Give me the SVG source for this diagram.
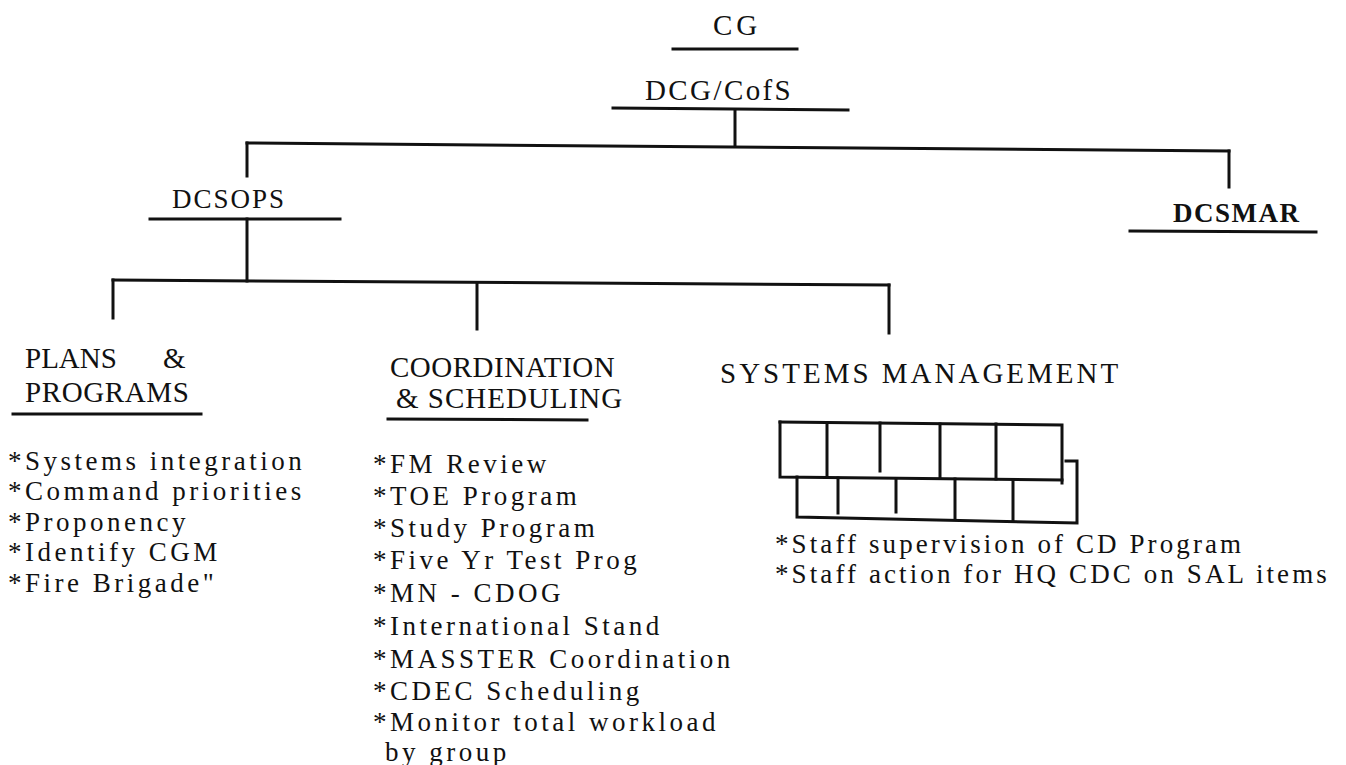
<svg xmlns="http://www.w3.org/2000/svg" width="1346" height="765" viewBox="0 0 1346 765">
<style>
text{font-family:'Liberation Serif','Times New Roman',serif;fill:#111}
.h{font-size:29px}
.li{font-size:27px;letter-spacing:3.5px}
.li2{font-size:27px;letter-spacing:3.1px}
.ln{stroke:#111;stroke-width:3;fill:none;stroke-linecap:square}
</style>
<rect width="1346" height="765" fill="#fff"/>
<g id="connectors" class="ln">
<path d="M735,110 L735,146"/>
<path d="M247,143 L1229,151"/>
<path d="M247,143 L247,176"/>
<path d="M1229,151 L1229,187"/>
<path d="M247,219 L247,281"/>
<path d="M113,280 L889,285"/>
<path d="M113,280 L113,318"/>
<path d="M477,283 L477,329"/>
<path d="M889,285 L889,333"/>
</g>
<g id="n-cg">
<text x="713" y="35" class="h" letter-spacing="4">CG</text>
<path class="ln" d="M673,49 L797,49"/>
</g>
<g id="n-dcg">
<text x="645" y="100" class="h" letter-spacing="2.4">DCG/CofS</text>
<path class="ln" d="M613,108 L848,110"/>
</g>
<g id="n-dcsops">
<text x="172" y="208" font-size="27" letter-spacing="2">DCSOPS</text>
<path class="ln" d="M150,219 L340,219"/>
</g>
<g id="n-dcsmar">
<text x="1173" y="222" font-size="27" font-weight="bold" letter-spacing="1.5">DCSMAR</text>
<path class="ln" d="M1130,231 L1316,232"/>
</g>
<g id="n-plans">
<text x="25" y="368" class="h">PLANS</text>
<text x="163" y="368" class="h">&amp;</text>
<text x="25" y="402" class="h" letter-spacing="0.6">PROGRAMS</text>
<path class="ln" d="M13,414 L201,414"/>
<text x="8" y="470" class="li">*Systems integration</text>
<text x="8" y="500" class="li">*Command priorities</text>
<text x="8" y="531" class="li">*Proponency</text>
<text x="8" y="561" class="li">*Identify CGM</text>
<text x="8" y="592" class="li">*Fire Brigade"</text>
</g>
<g id="n-coord">
<text x="390" y="377" class="h" letter-spacing="0.5">COORDINATION</text>
<text x="396" y="408" class="h" letter-spacing="1">&amp; SCHEDULING</text>
<path class="ln" d="M388,419 L587,420"/>
<text x="373" y="473" class="li">*FM Review</text>
<text x="373" y="505" class="li">*TOE Program</text>
<text x="373" y="537" class="li">*Study Program</text>
<text x="373" y="569" class="li">*Five Yr Test Prog</text>
<text x="373" y="602" class="li">*MN - CDOG</text>
<text x="373" y="635" class="li">*International Stand</text>
<text x="373" y="668" class="li">*MASSTER Coordination</text>
<text x="373" y="700" class="li">*CDEC Scheduling</text>
<text x="373" y="731" class="li">*Monitor total workload</text>
<text x="385" y="761" class="li">by group</text>
</g>
<g id="n-sysmgmt">
<text x="720" y="383" class="h" letter-spacing="3">SYSTEMS MANAGEMENT</text>
<g class="ln">
<path d="M780,422 L1062,425 L1062,483"/>
<path d="M780,422 L780,477 L1062,480"/>
<path d="M827,423 L827,477"/>
<path d="M880,423 L880,471"/>
<path d="M940,424 L940,478"/>
<path d="M996,424 L996,479"/>
<path d="M797,477 L797,517 L1077,523 L1077,461 L1066,461"/>
<path d="M838,478 L838,513"/>
<path d="M896,479 L896,512"/>
<path d="M955,479 L955,519"/>
<path d="M1013,480 L1013,521"/>
</g>
<text x="775" y="553" class="li2">*Staff supervision of CD Program</text>
<text x="775" y="583" class="li2">*Staff action for HQ CDC on SAL items</text>
</g>
</svg>
